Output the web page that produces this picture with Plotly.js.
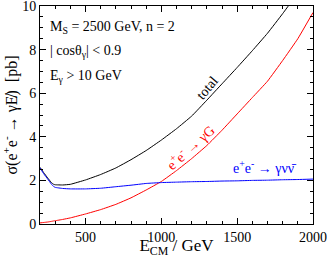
<!DOCTYPE html>
<html><head><meta charset="utf-8">
<script src="https://cdn.plot.ly/plotly-3.0.1.min.js"></script>
<style>body{margin:0;padding:0;background:#fff}#c{width:327px;height:258px}</style>
</head><body><div id="c"></div>
<script>
var energy = [200,225,250,275,290,300,350,400,500,600,700,800,900,1000,1100,1200,1300,1400,1500,1600,1700,1800,1900,2000];
var sigmaTotal = [2.6,2.35,2.12,1.9,1.82,1.8,1.79,1.82,2.02,2.27,2.57,2.95,3.37,3.85,4.37,4.95,5.68,6.43,7.18,7.95,8.75,9.65,10.6,11.6];
var sigmaG = [0.05,0.07,0.09,0.12,0.14,0.15,0.21,0.28,0.46,0.66,0.9,1.2,1.56,1.95,2.45,3.0,3.6,4.3,5.05,5.8,6.55,7.5,8.5,9.7];
var sigmaNu = [2.57,2.3,2.07,1.83,1.72,1.68,1.63,1.61,1.61,1.64,1.71,1.78,1.86,1.9,1.92,1.94,1.95,1.97,1.98,2.0,2.01,2.03,2.04,2.06];
var xTicks = [500,1000,1500,2000];
var yTicks = [0,2,4,6,8,10];

var F = '"Liberation Serif", "Times New Roman", serif';
var traces = [
 {x: energy, y: sigmaTotal, mode:'lines', line:{color:'#000', width:1, shape:'spline', smoothing:0.3}, hoverinfo:'skip'},
 {x: energy, y: sigmaG, mode:'lines', line:{color:'#ff0000', width:1, shape:'spline', smoothing:0.3}, hoverinfo:'skip'},
 {x: energy, y: sigmaNu, mode:'lines', line:{color:'#0000ff', width:1, shape:'spline', smoothing:0.3}, hoverinfo:'skip'}
];
var ax = {showgrid:false, zeroline:false, showline:true, linecolor:'#000', linewidth:1, mirror:'ticks',
  ticks:'inside', ticklen:6, tickwidth:1, tickcolor:'#000', ticklabeloverflow:'allow',
  tickfont:{family:F, size:14, color:'#000'}};
var layout = {
 width:327, height:258, margin:{l:40, r:14, t:6, b:34},
 paper_bgcolor:'#fff', plot_bgcolor:'#fff', showlegend:false,
 font:{family:F, color:'#000'},
 xaxis: Object.assign({}, ax, {range:[200,2000], tickvals:xTicks, ticktext:xTicks.map(String),
   minor:{dtick:100, tick0:0, ticks:'inside', ticklen:3, tickcolor:'#000'},
   title:{text:'E<sub>CM</sub> / GeV', font:{family:F, size:17}, standoff:1}}),
 yaxis: Object.assign({}, ax, {range:[0,10], tickvals:yTicks, ticktext:yTicks.map(String),
   minor:{dtick:0.5, tick0:0, ticks:'inside', ticklen:3, tickcolor:'#000'},
   title:{text:'σ(e<sup>+</sup>e<sup>-</sup> → γE̸)  [pb]', font:{family:F, size:16}, standoff:3}}),
 annotations:[
  {x:253, y:9.0, xref:'x', yref:'y', xanchor:'left', text:'M<sub>S</sub> = 2500 GeV, n = 2', showarrow:false, font:{family:F, size:14}},
  {x:253, y:7.9, xref:'x', yref:'y', xanchor:'left', text:'| cosθ<sub>γ</sub>| < 0.9', showarrow:false, font:{family:F, size:14}},
  {x:253, y:6.75, xref:'x', yref:'y', xanchor:'left', text:'E<sub>γ</sub> > 10 GeV', showarrow:false, font:{family:F, size:14}},
  {x:1307, y:6.24, xref:'x', yref:'y', text:'total', textangle:-50, showarrow:false, font:{family:F, size:14, color:'#000'}},
  {x:1189, y:3.53, xref:'x', yref:'y', text:'e<sup>+</sup>e<sup>-</sup> → γG', textangle:-42, showarrow:false, font:{family:F, size:14, color:'#ff0000'}},
  {x:1683, y:2.6, xref:'x', yref:'y', text:'e<sup>+</sup>e<sup>-</sup> → γνν̄', showarrow:false, font:{family:F, size:14, color:'#0000ff'}}
 ]
};
Plotly.newPlot('c', traces, layout, {staticPlot:true, displayModeBar:false});
</script></body></html>
